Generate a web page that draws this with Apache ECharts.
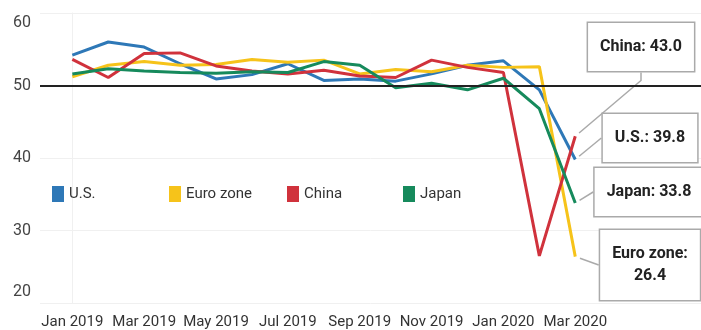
<!DOCTYPE html>
<html>
<head>
<meta charset="utf-8">
<script src="https://cdn.jsdelivr.net/npm/echarts@6/dist/echarts.min.js"></script>
<style>
  html, body { margin: 0; padding: 0; background: #fff; }
  #main { width: 701px; height: 330px; }
</style>
</head>
<body>
<div id="main"></div>
<script>
// months of the PMI series
var months = ['Jan 2019', 'Feb 2019', 'Mar 2019', 'Apr 2019', 'May 2019', 'Jun 2019', 'Jul 2019',
  'Aug 2019', 'Sep 2019', 'Oct 2019', 'Nov 2019', 'Dec 2019', 'Jan 2020', 'Feb 2020', 'Mar 2020'];
var usValues = [54.2, 56.0, 55.3, 53.0, 50.9, 51.5, 53.0, 50.7, 50.9, 50.6, 51.6, 52.8, 53.4, 49.4, 39.8];
var euroValues = [51.2, 52.8, 53.3, 52.8, 52.9, 53.6, 53.2, 53.5, 51.6, 52.2, 51.9, 52.8, 52.5, 52.6, 26.4];
var chinaValues = [53.6, 51.1, 54.4, 54.5, 52.7, 52.0, 51.6, 52.1, 51.3, 51.1, 53.5, 52.5, 51.8, 26.5, 43.0];
var japanValues = [51.6, 52.3, 52.0, 51.8, 51.7, 51.9, 51.8, 53.3, 52.8, 49.7, 50.3, 49.4, 51.0, 46.8, 33.8];
var seriesNames = ['U.S.', 'Euro zone', 'China', 'Japan'];
var labelTicks = [0, 2, 4, 6, 8, 10, 12, 14];
var yTicks = [20, 30, 40, 50, 60];

var font = 'Roboto, "Liberation Sans", sans-serif';

// turn a value list into [monthIndex, value] points, last one carries the callout
function toPoints(values) {
    return values.map(function (v, i) {
        if (i === values.length - 1) {
            return {
                value: [i, v],
                symbolSize: 10,
                itemStyle: { color: 'rgba(0,0,0,0)' },
                label: { show: true },
                labelLine: { show: true }
            };
        }
        return [i, v];
    });
}

function makeSeries(name, values, color, layout, wrap, len2) {
    return {
        name: name,
        type: 'line',
        data: toPoints(values),
        symbol: 'circle',
        symbolSize: 0,
        showSymbol: true,
        lineStyle: { color: color, width: 3 },
        itemStyle: { color: color },
        label: {
            show: false,
            formatter: function (p) {
                return p.seriesName + ':' + (wrap ? '\n' : ' ') + p.value[1].toFixed(1);
            },
            fontFamily: font,
            fontSize: 16,
            fontWeight: 'bold',
            lineHeight: 22,
            color: '#222',
            backgroundColor: '#fff',
            borderColor: '#aaa',
            borderWidth: 1.5,
            padding: [13, 12]
        },
        labelLine: {
            show: false,
            length2: len2 || 0,
            lineStyle: { color: '#aaa', width: 1.5 }
        },
        labelLayout: layout,
        emphasis: { disabled: true }
    };
}

var myChart = echarts.init(document.getElementById('main'));

var series = [
    makeSeries(seriesNames[0], usValues, '#2e78b7', { x: 650, y: 138, align: 'center', verticalAlign: 'middle' }),
    makeSeries(seriesNames[1], euroValues, '#f6c31a', { x: 650, y: 265, align: 'center', verticalAlign: 'middle' }, true),
    makeSeries(seriesNames[2], chinaValues, '#d0323c', { x: 641, y: 47, align: 'center', verticalAlign: 'middle' }, false, 8),
    makeSeries(seriesNames[3], japanValues, '#168a5c', { x: 649, y: 192, align: 'center', verticalAlign: 'middle' })
];
// the 50 reference line
series[0].markLine = {
    silent: true,
    symbol: 'none',
    label: { show: false },
    lineStyle: { color: '#222', width: 2, type: 'solid' },
    data: [{ yAxis: 50 }]
};

// one legend block per country so the items sit on an even spacing
var legendLeft = [52, 169, 287, 403];
var legends = seriesNames.map(function (n, i) {
    return {
        left: legendLeft[i],
        top: 186,
        padding: 0,
        icon: 'rect',
        itemWidth: 12,
        itemHeight: 16,
        selectedMode: false,
        textStyle: { fontFamily: font, fontSize: 15, color: '#333' },
        data: [n]
    };
});

var option = {
    animation: false,
    backgroundColor: '#fff',
    grid: { left: 40, right: 0, top: 13, bottom: 27 },
    legend: legends,
    xAxis: {
        type: 'value',
        min: -0.9,
        max: 17.5,
        axisLine: { show: false },
        axisTick: { show: false },
        splitLine: { show: false },
        axisLabel: {
            customValues: labelTicks,
            formatter: function (v) { return months[v]; },
            margin: 12,
            fontFamily: font,
            fontSize: 15,
            color: '#333'
        }
    },
    yAxis: {
        type: 'value',
        min: 20,
        max: 60,
        interval: 10,
        axisLine: { show: true, lineStyle: { color: '#f0f0f0' } },
        axisTick: { show: false },
        splitLine: { lineStyle: { color: '#f0f0f0', width: 1 } },
        axisLabel: {
            margin: 9,
            fontFamily: font,
            fontSize: 16,
            color: '#444',
            formatter: function (v) {
                if (v === yTicks[4]) return '{lo|' + v + '}';
                if (v === yTicks[0]) return '{hi|' + v + '}';
                return '{n|' + v + '}';
            },
            rich: {
                n: {},
                lo: { padding: [20, 0, 0, 0] },
                hi: { padding: [0, 0, 22, 0] }
            }
        }
    },
    series: series
};

myChart.setOption(option, true);
</script>
</body>
</html>
